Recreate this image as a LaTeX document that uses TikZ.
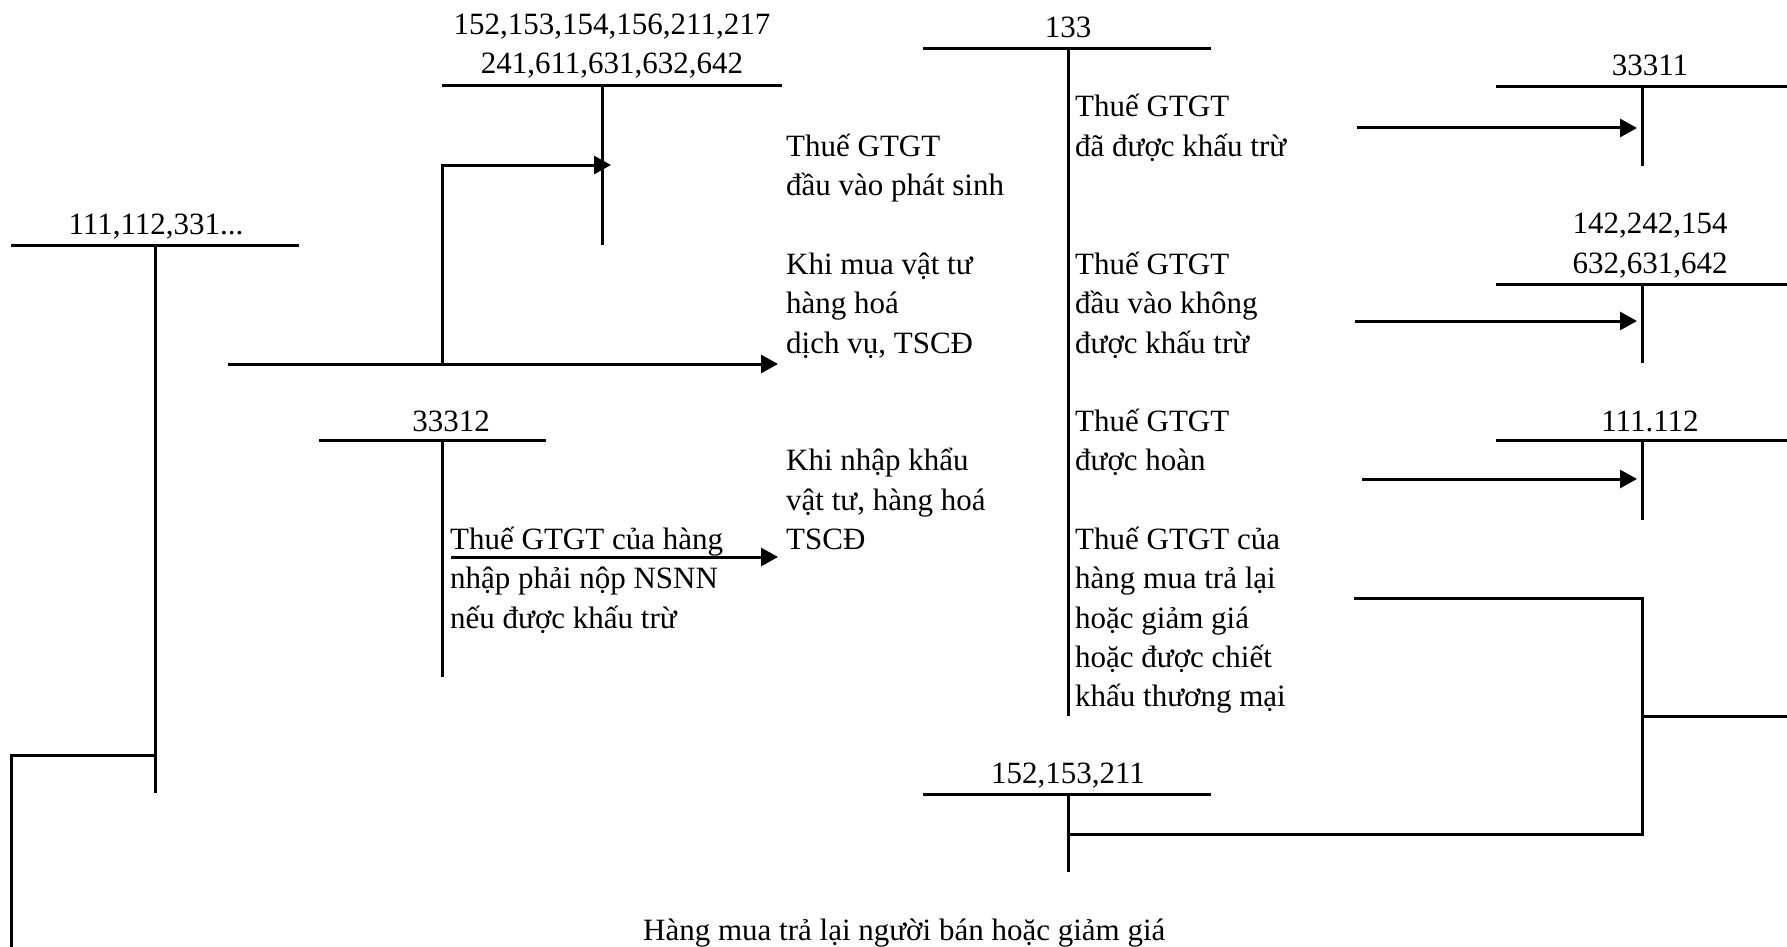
\documentclass[tikz,border=0pt]{standalone}
\usepackage{fontspec}
\setmainfont{Liberation Serif}
\usetikzlibrary{arrows.meta}
\tikzset{
  acct/.style={line width=3pt},
  conn/.style={line width=3pt},
  arr/.style={conn,-{Triangle[length=17pt,width=18pt]}},
  lbl/.style={inner sep=0pt,anchor=base,font=\fontsize{31}{39}\selectfont},
  txt/.style={inner sep=0pt,anchor=base west,font=\fontsize{31}{39}\selectfont},
}
\begin{document}
\begin{tikzpicture}[x=1pt,y=-1pt]
\useasboundingbox (0,0) rectangle (1787,947);
% ---------- T accounts ----------
% 152,153,...
\coordinate (aL) at (442,86); \coordinate (aR) at (782,86);
\coordinate (aT) at (602,86); \coordinate (aB) at (602,245);
\draw[acct] (aL) -- (aR); \draw[acct] (aT) -- (aB);
\node[lbl] (a1) at (612,35) {152,153,154,156,211,217};
\node[lbl] (a2) at (612,74) {241,611,631,632,642};
% 111,112,331...
\coordinate (bL) at (11,245); \coordinate (bR) at (299,245);
\coordinate (bT) at (155,245); \coordinate (bB) at (155,793);
\draw[acct] (bL) -- (bR); \draw[acct] (bT) -- (bB);
\node[lbl] (b1) at (156,234) {111,112,331...};
% 33312
\coordinate (cL) at (319,440); \coordinate (cR) at (546,440);
\coordinate (cT) at (442,440); \coordinate (cB) at (442,677);
\draw[acct] (cL) -- (cR); \draw[acct] (cT) -- (cB);
\node[lbl] (c1) at (451,431) {33312};
% 133
\coordinate (dL) at (923,49); \coordinate (dR) at (1211,49);
\coordinate (dT) at (1068,49); \coordinate (dB) at (1068,716);
\draw[acct] (dL) -- (dR); \draw[acct] (dT) -- (dB);
\node[lbl] (d1) at (1068,38) {133};
% 33311
\coordinate (eL) at (1496,87); \coordinate (eR) at (1787,87);
\coordinate (eT) at (1642,87); \coordinate (eB) at (1642,166);
\draw[acct] (eL) -- (eR); \draw[acct] (eT) -- (eB);
\node[lbl] (e1) at (1650,76) {33311};
% 142,242,154
\coordinate (fL) at (1496,284); \coordinate (fR) at (1787,284);
\coordinate (fT) at (1642,284); \coordinate (fB) at (1642,363);
\draw[acct] (fL) -- (fR); \draw[acct] (fT) -- (fB);
\node[lbl] (f1) at (1650,233) {142,242,154};
\node[lbl] (f2) at (1650,273) {632,631,642};
% 111.112
\coordinate (gL) at (1496,440); \coordinate (gR) at (1787,440);
\coordinate (gT) at (1642,440); \coordinate (gB) at (1642,520);
\draw[acct] (gL) -- (gR); \draw[acct] (gT) -- (gB);
\node[lbl] (g1) at (1650,431) {111.112};
% 152,153,211
\coordinate (hL) at (923,794); \coordinate (hR) at (1211,794);
\coordinate (hT) at (1068,794); \coordinate (hB) at (1068,872);
\draw[acct] (hL) -- (hR); \draw[acct] (hT) -- (hB);
\node[lbl] (h1) at (1068,783) {152,153,211};
% ---------- connectors ----------
\coordinate (m0) at (228,364); \coordinate (m1) at (778,364);
\draw[arr] (m0) -- (m1);
\coordinate (u0) at (442,364); \coordinate (u1) at (611,165);
\draw[arr] (u0) |- (u1);
\coordinate (n0) at (451,557); \coordinate (n1) at (778,557);
\draw[arr] (n0) -- (n1);
\coordinate (p0) at (1357,128); \coordinate (p1) at (1637,128);
\draw[arr] (p0) -- (p1);
\coordinate (q0) at (1355,321); \coordinate (q1) at (1637,321);
\draw[arr] (q0) -- (q1);
\coordinate (r0) at (1362,479); \coordinate (r1) at (1637,479);
\draw[arr] (r0) -- (r1);
\coordinate (s0) at (1354,598); \coordinate (s1) at (1642,834);
\coordinate (s2) at (1642,716); \coordinate (s3) at (1787,716);
\draw[conn] (s0) -| (s1) -- (hT |- s1);
\draw[conn] (s2) -- (s3);
\coordinate (t0) at (155,755); \coordinate (t1) at (11,952);
\draw[conn] (t0) -| (t1);
% ---------- texts ----------
\node[txt] (x1) at (786,156) {Thuế GTGT};
\node[txt] (x2) at (786,195) {đầu vào phát sinh};
\node[txt] (x3) at (786,274) {Khi mua vật tư};
\node[txt] (x4) at (786,313) {hàng hoá};
\node[txt] (x5) at (786,353) {dịch vụ, TSCĐ};
\node[txt] (x6) at (786,470) {Khi nhập khẩu};
\node[txt] (x7) at (786,510) {vật tư, hàng hoá};
\node[txt] (x8) at (786,549) {TSCĐ};
\node[txt] (y1) at (1075,117) {Thuế GTGT};
\node[txt] (y2) at (1075,156) {đã được khấu trừ};
\node[txt] (y3) at (1075,274) {Thuế GTGT};
\node[txt] (y4) at (1075,313) {đầu vào không};
\node[txt] (y5) at (1075,353) {được khấu trừ};
\node[txt] (y6) at (1075,431) {Thuế GTGT};
\node[txt] (y7) at (1075,470) {được hoàn};
\node[txt] (y8) at (1075,549) {Thuế GTGT của};
\node[txt] (y9) at (1075,588) {hàng mua trả lại};
\node[txt] (y10) at (1075,628) {hoặc giảm giá};
\node[txt] (y11) at (1075,667) {hoặc được chiết};
\node[txt] (y12) at (1075,706) {khấu thương mại};
\node[txt] (z1) at (450,549) {Thuế GTGT của hàng};
\node[txt] (z2) at (450,588) {nhập phải nộp NSNN};
\node[txt] (z3) at (450,628) {nếu được khấu trừ};
\node[txt] (w1) at (643,940) {Hàng mua trả lại người bán hoặc giảm giá};
\end{tikzpicture}
\end{document}
